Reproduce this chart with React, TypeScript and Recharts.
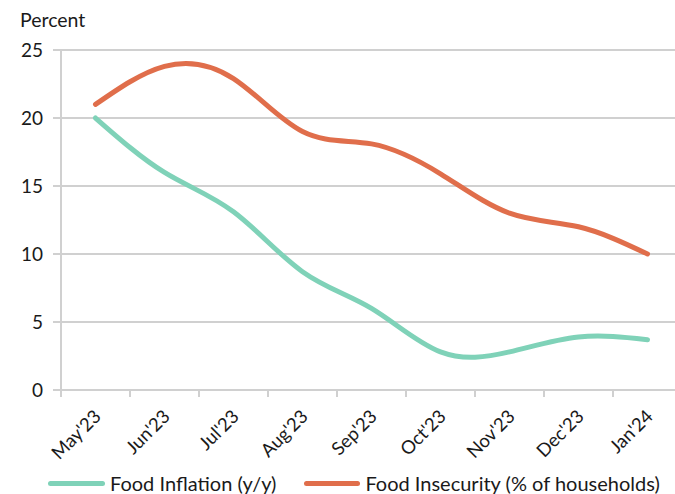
import React from 'react';
import { LineChart, Line, XAxis, YAxis, CartesianGrid, Legend } from 'recharts';

const months = ["May'23", "Jun'23", "Jul'23", "Aug'23", "Sep'23", "Oct'23", "Nov'23", "Dec'23", "Jan'24"];
const foodInflation = [20.0, 16.0, 13.1, 8.7, 6.0, 2.8, 2.8, 3.9, 3.7];
const foodInsecurity = [21.0, 23.8, 22.9, 19.0, 18.1, 15.9, 13.0, 12.0, 10.0];
const yTicks = [0, 5, 10, 15, 20, 25];

const INFLATION_COLOR = '#7fd2b8';
const INSECURITY_COLOR = '#e06e4b';
const GRID = '#d0d0d0';
const FONT = 'Lato, "Open Sans", sans-serif';

const data = months.map((m, i) => ({
    month: m,
    inflation: foodInflation[i],
    insecurity: foodInsecurity[i],
}));

const BAND = 69;

const MonthTick = (props: any) => {
    const { x, y, payload } = props;
    return (
        <g>
            <line x1={x - BAND / 2} y1={y - 8} x2={x - BAND / 2} y2={y - 1} stroke={GRID} strokeWidth={2} />
            <line x1={x + BAND / 2} y1={y - 8} x2={x + BAND / 2} y2={y - 1} stroke={GRID} strokeWidth={2} />
            <text
                transform={`translate(${x + 2},${y + 15}) rotate(-45)`}
                textAnchor="end"
                dy="0.35em"
                fontSize={18.5}
                fontFamily={FONT}
                fill="#1a1a1a"
            >
                {payload.value}
            </text>
        </g>
    );
};

const renderLegend = () => (
    <div style={{ display: 'flex', fontFamily: FONT, fontSize: 20, color: '#1a1a1a', paddingLeft: 48, lineHeight: '22px' }}>
        <div style={{ display: 'flex', alignItems: 'center' }}>
            <span style={{ display: 'inline-block', width: 57, height: 5, borderRadius: 3, background: INFLATION_COLOR, marginRight: 5 }} />
            Food Inflation (y/y)
        </div>
        <div style={{ display: 'flex', alignItems: 'center', marginLeft: 28 }}>
            <span style={{ display: 'inline-block', width: 56, height: 5, borderRadius: 3, background: INSECURITY_COLOR, marginRight: 5 }} />
            Food Insecurity (% of households)
        </div>
    </div>
);

export default function App() {
    return (
        <div style={{ position: 'absolute', left: 0, top: 0, width: 675, height: 494, overflow: 'hidden', background: '#fff' }}>
            <div style={{ position: 'absolute', left: 20, top: 8, fontFamily: FONT, fontSize: 19.5, color: '#1a1a1a' }}>
                Percent
            </div>
            <LineChart width={690} height={494} data={data} margin={{ top: 50, right: 8, left: 0, bottom: 0 }}>
                <CartesianGrid vertical={false} stroke={GRID} strokeWidth={2} />
                <XAxis
                    dataKey="month"
                    axisLine={{ stroke: GRID, strokeWidth: 2 }}
                    tickLine={false}
                    tick={<MonthTick />}
                    interval={0}
                    height={82}
                    padding={{ left: BAND / 2, right: BAND / 2 }}
                />
                <YAxis
                    domain={[0, 25]}
                    ticks={yTicks}
                    width={61}
                    axisLine={{ stroke: GRID, strokeWidth: 2 }}
                    tickLine={{ stroke: GRID, strokeWidth: 2 }}
                    tickSize={8}
                    tick={{ fill: '#1a1a1a', fontSize: 19, fontFamily: FONT }}
                    tickMargin={10}
                />
                <Legend verticalAlign="bottom" height={22} content={renderLegend} />
                <Line
                    type="natural"
                    dataKey="inflation"
                    stroke={INFLATION_COLOR}
                    strokeWidth={5}
                    dot={false}
                    strokeLinecap="round"
                    isAnimationActive={false}
                />
                <Line
                    type="natural"
                    dataKey="insecurity"
                    stroke={INSECURITY_COLOR}
                    strokeWidth={5}
                    dot={false}
                    strokeLinecap="round"
                    isAnimationActive={false}
                />
            </LineChart>
        </div>
    );
}
